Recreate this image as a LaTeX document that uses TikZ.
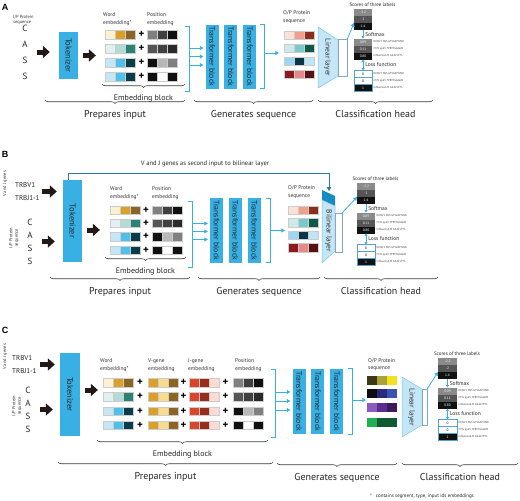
\documentclass[tikz,border=0pt]{standalone}
\usepackage{fontspec}
\setmainfont{PT Sans}
\newfontfamily\panelfont{Liberation Sans}
\usetikzlibrary{positioning,arrows.meta,decorations.pathreplacing}

\begin{document}
\begin{tikzpicture}[x=1pt,y=-1pt,
  fatarrow/.style={draw=arrowColor,line width=5pt,-{Triangle[length=7pt,width=12pt]}},
  bluearr/.style={draw=tfColor,line width=0.8pt,-{Triangle[length=3.5pt,width=4pt]}},
  smallarr/.style={draw=tfColor,line width=0.6pt,-{Triangle[length=2.5pt,width=3pt]}},
  lossarr/.style={draw=tfColor,line width=0.6pt,{Triangle[length=2.5pt,width=3pt]}-{Triangle[length=2.5pt,width=3pt]}},
  vjline/.style={draw=vjColor,line width=0.8pt,-{Triangle[length=4pt,width=4.5pt]}},
  bluebr/.style={draw=tfColor,line width=0.8pt},
  brk/.style={minimum width=4pt,inner sep=0pt},
  brc/.style={draw=braceColor,line width=0.6pt,decorate,decoration={brace,mirror,amplitude=3.5pt}},
  bracelab/.style={inner sep=0pt,font=\fontsize{10}{12}\selectfont,text=black!85},
  emblab/.style={inner sep=0pt,font=\fontsize{8}{10}\selectfont,text=black!85},
  panellab/.style={inner sep=0pt,font=\panelfont\fontsize{9}{10}\bfseries\selectfont},
  hdr/.style={inner sep=0pt,align=left,font=\fontsize{5.5}{7.5}\selectfont,text=black!80},
  sidelab/.style={inner sep=0pt,align=center,font=\fontsize{4.5}{5.5}\selectfont,text=black!80},
  seqlab/.style={inner sep=0pt,align=center,font=\fontsize{9}{16}\selectfont,text=black!85},
  vjlab/.style={inner sep=0pt,align=left,font=\fontsize{7}{13}\selectfont,text=black!85},
  toptext/.style={inner sep=0pt,font=\fontsize{6.5}{8}\selectfont,text=black!85},
  tok/.style={fill=tfColor,inner sep=0pt,minimum width=19pt,font=\fontsize{8.5}{9}\selectfont,text=black!85},
  tfblock/.style={fill=tfColor,inner sep=0pt,minimum width=13pt,minimum height=64pt,font=\fontsize{7.8}{8}\selectfont,text=black!85},
  cell/.style={draw=black!20,line width=0.25pt,minimum width=10pt,minimum height=8.5pt,inner sep=0pt},
  plus/.style={inner sep=0pt,font=\bfseries\fontsize{11}{11}\selectfont},
  linlayer/.style={fill=linFill,draw=linDraw,line width=0.5pt},
  laytext/.style={inner sep=0pt,font=\fontsize{7.5}{8}\selectfont,text=black!80},
  outbox/.style={draw=outColor,line width=0.4pt,inner sep=0pt},
  score/.style={minimum height=7pt,inner sep=0pt,outer sep=0pt,text=white,font=\fontsize{3.5}{4}\selectfont},
  tgt/.style={score,draw=tgBorder,line width=0.4pt,fill=white,text=black},
  smalltext/.style={inner sep=0pt,font=\fontsize{5}{6}\selectfont,text=black!85},
  steplab/.style={inner sep=0pt,font=\fontsize{5.5}{6}\selectfont,text=black!85},
  clslab/.style={inner sep=0pt,font=\fontsize{2.8}{3}\selectfont,text=black!75},
  footlab/.style={inner sep=0pt,font=\fontsize{5}{6}\selectfont,text=black!85}]
\definecolor{tfColor}{RGB}{56,176,228}
\definecolor{arrowColor}{RGB}{35,24,21}
\definecolor{linFill}{RGB}{196,230,247}
\definecolor{linDraw}{RGB}{120,195,235}
\definecolor{bilDark}{RGB}{22,140,195}
\definecolor{vjColor}{RGB}{45,120,160}
\definecolor{outColor}{RGB}{130,170,195}
\definecolor{braceColor}{RGB}{60,60,60}
\definecolor{tgBorder}{RGB}{90,160,205}
\definecolor{sc1}{RGB}{138,138,138}
\definecolor{sc2}{RGB}{85,85,85}
\definecolor{sc3}{RGB}{17,17,17}
% word embedding
\definecolor{w1a}{RGB}{253,241,210}\definecolor{w1b}{RGB}{217,160,42}\definecolor{w1c}{RGB}{140,101,38}
\definecolor{w2a}{RGB}{226,241,239}\definecolor{w2b}{RGB}{179,220,214}\definecolor{w2c}{RGB}{42,130,114}
\definecolor{w3a}{RGB}{197,230,245}\definecolor{w3b}{RGB}{78,192,234}\definecolor{w3c}{RGB}{10,60,74}
\definecolor{w4a}{RGB}{197,230,245}\definecolor{w4b}{RGB}{78,192,234}\definecolor{w4c}{RGB}{10,60,74}
% position embedding
\definecolor{p1a}{RGB}{128,128,128}\definecolor{p1b}{RGB}{64,64,64}\definecolor{p1c}{RGB}{16,16,16}
\definecolor{p2a}{RGB}{85,85,85}\definecolor{p2b}{RGB}{64,64,64}\definecolor{p2c}{RGB}{42,42,42}
\definecolor{p3a}{RGB}{17,17,17}\definecolor{p3b}{RGB}{184,184,184}\definecolor{p3c}{RGB}{128,128,128}
\definecolor{p4a}{RGB}{17,17,17}\definecolor{p4b}{RGB}{255,255,255}\definecolor{p4c}{RGB}{17,17,17}
% V-gene and J-gene embedding
\definecolor{va}{RGB}{217,160,42}\definecolor{vb}{RGB}{247,220,140}\definecolor{vc}{RGB}{140,101,38}
\definecolor{ja}{RGB}{217,70,42}\definecolor{jb}{RGB}{154,45,26}\definecolor{jc}{RGB}{251,220,212}
% output sequence
\definecolor{o1a}{RGB}{251,225,216}\definecolor{o1b}{RGB}{239,160,138}\definecolor{o1c}{RGB}{140,46,26}
\definecolor{o2a}{RGB}{205,233,234}\definecolor{o2b}{RGB}{124,201,201}\definecolor{o2c}{RGB}{13,90,74}
\definecolor{o3a}{RGB}{157,214,242}\definecolor{o3b}{RGB}{10,53,72}\definecolor{o3c}{RGB}{191,228,245}
\definecolor{o4a}{RGB}{140,26,31}\definecolor{o4b}{RGB}{229,138,138}\definecolor{o4c}{RGB}{90,15,21}
\definecolor{q1a}{RGB}{59,58,21}\definecolor{q1b}{RGB}{169,162,58}\definecolor{q1c}{RGB}{244,226,30}
\definecolor{q2a}{RGB}{13,13,18}\definecolor{q2b}{RGB}{43,43,126}\definecolor{q2c}{RGB}{58,85,176}
\definecolor{q3a}{RGB}{138,92,192}\definecolor{q3b}{RGB}{91,45,143}\definecolor{q3c}{RGB}{59,26,94}
\definecolor{q4a}{RGB}{29,176,84}\definecolor{q4b}{RGB}{15,90,48}\definecolor{q4c}{RGB}{15,90,48}
\path[use as bounding box,fill=white] (0,0) rectangle (520,501);

%% ---------------- A ----------------
\node[panellab] (labA) at (5,7) {A};
\node[sidelab,align=left,anchor=west] (ipA) at (13,20) {I/P Protein\\sequence};
\node[seqlab] (seqA) at (25,52) {C\\A\\S\\S};
\node[tok,minimum height=47pt] (tokA) at (68.5,55.5) {\rotatebox{-90}{Tokenizer}};
\node[hdr,anchor=west] (hwA) at (103,19) {Word\\embedding*};
\node[hdr,anchor=west] (hpA) at (147,19) {Position\\embedding};
\foreach \r/\yy in {1/34.5,2/48.5,3/62.5,4/76.5}{
  \foreach \c/\xx in {a/110,b/120,c/130}
    \node[cell,fill=w\r\c] (wA\r\c) at (\xx,\yy) {};
  \node[plus] (plA\r) at (141.5,\yy) {+};
  \foreach \c/\xx in {a/152,b/162,c/172}
    \node[cell,fill=p\r\c] (pA\r\c) at (\xx,\yy) {};
}
\draw[fatarrow,shorten <=9pt,shorten >=9pt] (seqA.east) -- (seqA.east -| tokA.west);
\draw[fatarrow,shorten <=5pt,shorten >=9pt] (tokA.east) -- (tokA.east -| wA1a.west);
\draw[brc] (102,84) -- node[below=10.5pt,emblab] (embA) {Embedding block} (185,84);
\node[brk,minimum height=64pt] (brA) at (187,59) {};
\node[tfblock] (tfA1) at (212,56.5) {\rotatebox{-90}{Transformer block}};
\node[tfblock,right=5.5pt of tfA1] (tfA2) {\rotatebox{-90}{Transformer block}};
\node[tfblock,right=5.5pt of tfA2] (tfA3) {\rotatebox{-90}{Transformer block}};
\node[brk,minimum height=63pt,right=3.5pt of tfA3] (brA2) {};
\foreach \s in {11,2.5,-6}
  \draw[bluearr,shorten >=2pt] ([yshift=\s pt]brA.east) -- ([yshift=\s pt]brA.east -| tfA1.west);
\node[hdr,anchor=west] (hoA) at (283,17) {O/P Protein\\sequence};
\foreach \r/\yy in {1/35,2/48,3/61,4/74}
  \foreach \c/\xx in {a/289,b/299,c/309}
    \node[cell,fill=o\r\c] (oA\r\c) at (\xx,\yy) {};
\draw[bluearr,shorten >=5pt] ([yshift=3.5pt]brA2.east) -- ([yshift=3.5pt]brA2.east -| oA1a.west);
\draw[linlayer] (318,27) -- (338,40) -- (338,76) -- (318,88) -- cycle;
\node[laytext] (linA) at (327.5,57.5) {\rotatebox{-90}{Linear layer}};
\node[outbox,minimum width=9pt,minimum height=37pt] (outA) at (342.5,58) {};
\draw[brc] (45,100) -- node[below=10pt,bracelab] (prepA) {Prepares input} (185,100);
\draw[brc] (194,100) -- node[below=10pt,bracelab] (genA) {Generates sequence} (313,100);
\draw[brc] (318,100) -- node[below=10pt,bracelab] (clsA) {Classification head} (433,100);

%% ---------------- B ----------------
\node[panellab] (labB) at (5,154) {B};
\node[toptext] (vjtxtB) at (205,164) {V and J genes as second input to bilinear layer};
\node[sidelab,rotate=90] (vjsideB) at (5,184) {V and J genes};
\node[vjlab,anchor=west] (vjB) at (15,191.5) {TRBV1\\TRBJ1-1};
\node[sidelab,rotate=90] (ipB) at (14,238) {I/P Protein\\sequence};
\node[seqlab,font=\fontsize{9}{13}\selectfont] (seqB) at (30,241.5) {C\\A\\S\\S};
\node[tok,minimum height=82pt] (tokB) at (72.5,221) {\rotatebox{-90}{Tokenizer}};
\node[hdr,anchor=west] (hwB) at (110,193) {Word\\embedding*};
\node[hdr,anchor=west] (hpB) at (152,193) {Position\\embedding};
\foreach \r/\yy in {1/210,2/223.3,3/236.6,4/250}{
  \foreach \c/\xx in {a/115,b/125,c/135}
    \node[cell,fill=w\r\c] (wB\r\c) at (\xx,\yy) {};
  \node[plus] (plB\r) at (146,\yy) {+};
  \foreach \c/\xx in {a/157,b/167,c/177}
    \node[cell,fill=p\r\c] (pB\r\c) at (\xx,\yy) {};
}
\draw[fatarrow,shorten <=2pt,shorten >=6pt] (vjB.east) -- (vjB.east -| tokB.west);
\draw[fatarrow,shorten <=9pt,shorten >=8pt] (seqB.east) -- (seqB.east -| tokB.west);
\draw[fatarrow,shorten <=5pt,shorten >=10pt] ([yshift=-9pt]tokB.east) -- ([yshift=-9pt]tokB.east -| wB1a.west);
\draw[brc] (105,257) -- node[below=10.5pt,emblab] (embB) {Embedding block} (186,257);
\node[brk,minimum height=65pt] (brB) at (190.5,234.5) {};
\node[tfblock,minimum height=65pt] (tfB1) at (216.5,230.5) {\rotatebox{-90}{Transformer block}};
\node[tfblock,minimum height=65pt,right=5.5pt of tfB1] (tfB2) {\rotatebox{-90}{Transformer block}};
\node[tfblock,minimum height=65pt,right=5.5pt of tfB2] (tfB3) {\rotatebox{-90}{Transformer block}};
\node[brk,minimum height=63pt,right=5pt of tfB3] (brB2) {};
\foreach \s in {11,3,-5}
  \draw[bluearr,shorten >=2pt] ([yshift=\s pt]brB.east) -- ([yshift=\s pt]brB.east -| tfB1.west);
\node[hdr,anchor=west] (hoB) at (288,192) {O/P Protein\\sequence};
\foreach \r/\yy in {1/210,2/222.5,3/235,4/247.5}
  \foreach \c/\xx in {a/293,b/303,c/313}
    \node[cell,fill=o\r\c] (oB\r\c) at (\xx,\yy) {};
\draw[bluearr,shorten >=3pt] (brB2.east) -- (brB2.east -| oB1a.west);
\fill[bilDark] (322,190) -- (335,196) -- (335,206) -- (322,200) -- cycle;
\draw[linlayer] (322,200) -- (335,206) -- (335,251) -- (322,263) -- cycle;
\node[laytext] (bilB) at (328.5,231) {\rotatebox{-90}{Bilinear layer}};
\node[outbox,minimum width=7pt,minimum height=39pt] (outB) at (338.5,232.5) {};
\coordinate (vjturnB) at (329,173);
\coordinate (bilinB) at (329,191);
\draw[vjline] ([xshift=-4.5pt]tokB.north) |- (vjturnB) -- (bilinB);
\draw[brc] (50,277) -- node[below=10pt,bracelab] (prepB) {Prepares input} (190,277);
\draw[brc] (198,277) -- node[below=10pt,bracelab] (genB) {Generates sequence} (320,277);
\draw[brc] (324,277) -- node[below=10pt,bracelab] (clsB) {Classification head} (438,277);

%% ---------------- C ----------------
\node[panellab] (labC) at (5,330) {C};
\node[sidelab,rotate=90] (vjsideC) at (5,357) {V and J genes};
\node[vjlab,anchor=west] (vjC) at (12,364.5) {TRBV1\\TRBJ1-1};
\node[sidelab,rotate=90] (ipC) at (17,406) {I/P Protein\\sequence};
\node[seqlab,font=\fontsize{9}{13}\selectfont] (seqC) at (28,409.5) {C\\A\\S\\S};
\node[tok,minimum width=20pt,minimum height=83pt] (tokC) at (70,394.5) {\rotatebox{-90}{Tokenizer}};
\node[hdr,anchor=west] (hwC) at (100,365) {Word\\embedding*};
\node[hdr,anchor=west] (hvC) at (148,365) {V-gene\\embedding};
\node[hdr,anchor=west] (hjC) at (188,365) {J-gene\\embedding};
\node[hdr,anchor=west] (hpC) at (235,365) {Position\\embedding};
\foreach \r/\yy in {1/382.5,2/396.7,3/410.9,4/425.1}{
  \foreach \c/\xx in {a/108,b/118,c/128}
    \node[cell,fill=w\r\c] (wC\r\c) at (\xx,\yy) {};
  \node[plus] (plC\r1) at (140,\yy) {+};
  \foreach \c/\xx in {a/153,b/163,c/173}
    \node[cell,fill=v\c] (vC\r\c) at (\xx,\yy) {};
  \node[plus] (plC\r2) at (183.5,\yy) {+};
  \foreach \c/\xx in {a/194,b/204,c/214}
    \node[cell,fill=j\c] (jC\r\c) at (\xx,\yy) {};
  \node[plus] (plC\r3) at (225.5,\yy) {+};
  \foreach \c/\xx in {a/238,b/248,c/258}
    \node[cell,fill=p\r\c] (pC\r\c) at (\xx,\yy) {};
}
\draw[fatarrow,shorten <=3pt,shorten >=5pt] (vjC.east) -- (vjC.east -| tokC.west);
\draw[fatarrow,shorten <=9pt,shorten >=7pt] (seqC.east) -- (seqC.east -| tokC.west);
\draw[fatarrow,shorten <=5pt,shorten >=5pt] ([yshift=4.5pt]tokC.east) -- ([yshift=4.5pt]tokC.east -| wC1a.west);
\draw[brc] (97,440) -- node[below=10.5pt,emblab] (embC) {Embedding block} (268,440);
\node[brk,minimum height=67pt] (brC) at (273,403.5) {};
\node[tfblock,minimum height=65pt] (tfC1) at (299,401.5) {\rotatebox{-90}{Transformer block}};
\node[tfblock,minimum height=65pt,right=5.5pt of tfC1] (tfC2) {\rotatebox{-90}{Transformer block}};
\node[tfblock,minimum height=65pt,right=5.5pt of tfC2] (tfC3) {\rotatebox{-90}{Transformer block}};
\node[brk,minimum height=65pt,right=4pt of tfC3] (brC2) {};
\foreach \s in {11.5,2.5,-6.5}
  \draw[bluearr,shorten >=2pt] ([yshift=\s pt]brC.east) -- ([yshift=\s pt]brC.east -| tfC1.west);
\node[hdr,anchor=west] (hoC) at (368,364.5) {O/P Protein\\sequence};
\foreach \r/\yy in {1/380.5,2/393.5,3/407.5,4/422}
  \foreach \c/\xx in {a/372,b/382,c/392}
    \node[cell,draw=none,minimum height=9pt,fill=q\r\c] (oC\r\c) at (\xx,\yy) {};
\draw[bluearr,shorten >=1pt] ([yshift=1.5pt]brC2.east) -- ([yshift=1.5pt]brC2.east -| oC1a.west);
\draw[linlayer] (402,377) -- (422,389) -- (422,425) -- (402,437) -- cycle;
\node[laytext] (linC) at (411.5,407) {\rotatebox{-90}{Linear layer}};
\node[outbox,minimum width=5pt,minimum height=36pt] (outC) at (424.5,407) {};
\draw[brc] (58,462) -- node[below=10pt,bracelab] (prepC) {Prepares input} (273,462);
\draw[brc] (277,463) -- node[below=10pt,bracelab] (genC) {Generates sequence} (397,463);
\draw[brc] (402,463) -- node[below=10pt,bracelab] (clsC) {Classification head} (518,463);
\node[footlab,anchor=west] (fnC) at (370,496) {*\hspace{4pt}contains segment, type, input ids embeddings};

%% classification heads
\foreach \P/\xx/\yy/\ww in {A/363/12.5/18,B/366/186.5/18,C/447.5/361.5/19}{
  \node[score,minimum width=\ww pt,fill=sc1] (sc\P1) at (\xx,\yy) {-2.2};
  \node[score,minimum width=\ww pt,fill=sc2,below=0pt of sc\P1] (sc\P2) {-2};
  \node[score,minimum width=\ww pt,fill=sc3,below=0pt of sc\P2] (sc\P3) {1.4};
  \node[smalltext,above=2.5pt of sc\P1,xshift=9.5pt] (hs\P) {Scores of three labels};
  \node[score,minimum width=\ww pt,fill=sc1,below=8.5pt of sc\P3] (sm\P1) {0.09};
  \node[score,minimum width=\ww pt,fill=sc2,below=0pt of sm\P1] (sm\P2) {0.11};
  \node[score,minimum width=\ww pt,fill=sc3,below=0pt of sm\P2] (sm\P3) {0.80};
  \node[tgt,minimum width=\ww pt,below=11pt of sm\P3] (tg\P1) {0};
  \node[tgt,minimum width=\ww pt,below=0pt of tg\P1] (tg\P2) {0};
  \node[tgt,minimum width=\ww pt,fill=sc3,text=white,below=0pt of tg\P2] (tg\P3) {1};
  \foreach \n/\lab in {1/DENV1 NS3 GTSGSPIVNR,2/CMV pp65 TPRVTGGGAM,3/InfluenzaA M GILGFVFTL}{
    \node[clslab,right=1.5pt of sm\P\n] (ls\P\n) {\lab};
    \node[clslab,right=1.5pt of tg\P\n] (lt\P\n) {\lab};
  }
  \draw[smallarr] (sc\P3) -- node[right=2pt,steplab] (smx\P) {Softmax} (sm\P1);
  \draw[lossarr] (sm\P3) -- node[right=2pt,steplab] (lss\P) {Loss function} (tg\P1);
  \draw[bluearr] (out\P.north east) -- (sc\P2.south west);
}
% blue brackets
\foreach \b in {brA,brA2,brB,brB2,brC,brC2}
  \draw[bluebr] (\b.north west) -- (\b.north east) -- (\b.south east) -- (\b.south west);
\end{tikzpicture}
\end{document}
